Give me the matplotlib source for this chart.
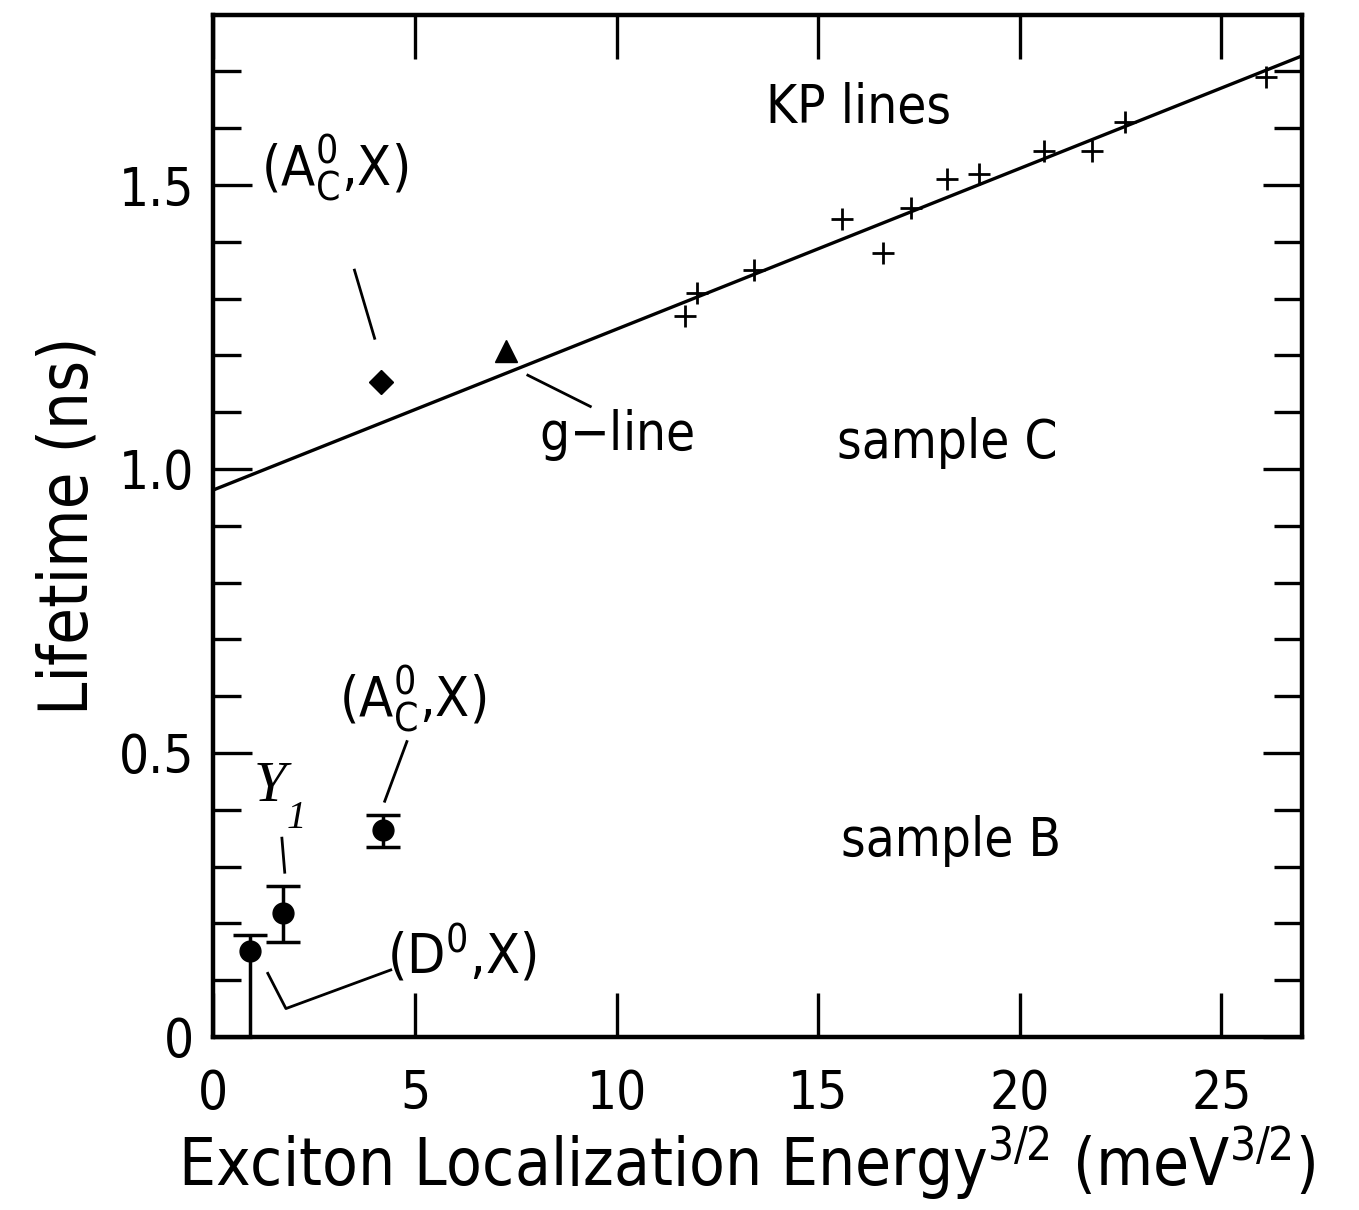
import numpy as np
import matplotlib
matplotlib.use('Agg')
import matplotlib.pyplot as plt

# KP lines, sample C
kp_x = [11.7, 12.0, 13.4, 15.6, 16.6, 17.3, 18.2, 19.0, 20.6, 21.8, 22.6, 26.1]
kp_y = [1.27, 1.31, 1.35, 1.44, 1.38, 1.46, 1.51, 1.52, 1.56, 1.56, 1.61, 1.69]

# linear fit line
fit_a = 0.963
fit_b = 0.0283

# other sample C points
acx_c = (4.15, 1.153)
gline = (7.25, 1.208)

# sample B points with error bars
b_x = [0.92, 1.72, 4.2]
b_y = [0.152, 0.218, 0.364]
b_err_lo = [0.152, 0.05, 0.03]
b_err_hi = [0.028, 0.048, 0.027]

plt.rcParams['font.family'] = ['DejaVu Sans']
plt.rcParams['font.stretch'] = 'condensed'
plt.rcParams['mathtext.fontset'] = 'custom'
plt.rcParams['mathtext.rm'] = 'DejaVu Sans:stretch=condensed'
plt.rcParams['mathtext.it'] = 'DejaVu Sans:stretch=condensed'

fig = plt.figure(figsize=(13.59, 12.10), dpi=100)
ax = fig.add_axes([0.157, 0.143, 0.801, 0.845])

xs = np.array([0, 27])
ax.plot(xs, fit_a + fit_b * xs, 'k-', lw=2.4)
ax.plot(kp_x, kp_y, 'k+', ms=16, mew=2)
ax.plot(*acx_c, 'kD', ms=12)
ax.plot(*gline, 'k^', ms=16)
ax.errorbar(b_x, b_y, yerr=[b_err_lo, b_err_hi], fmt='ko', ms=15,
            ecolor='k', elinewidth=2.5, capsize=12, capthick=2.5)

# labels
ax.text(16.0, 1.635, 'KP lines', fontsize=38, ha='center', va='center')
ax.text(18.2, 1.045, 'sample C', fontsize=38, ha='center', va='center')
ax.text(18.3, 0.345, 'sample B', fontsize=38, ha='center', va='center')
ax.text(10.0, 1.06, 'g$-$line', fontsize=38, ha='center', va='center')
ax.plot([7.8, 9.35], [1.165, 1.11], 'k-', lw=2)

ax.text(3.0, 1.53, r'(A$_\mathregular{C}^\mathregular{0}$,X)', fontsize=40,
        ha='center', va='center')
ax.plot([3.5, 4.0], [1.35, 1.23], 'k-', lw=2)

ax.text(4.95, 0.595, r'(A$_\mathregular{C}^\mathregular{0}$,X)', fontsize=40,
        ha='center', va='center')
ax.plot([4.8, 4.25], [0.52, 0.415], 'k-', lw=2)

ax.text(1.4, 0.44, 'Y', fontsize=42, family='Liberation Serif',
        style='italic', ha='center', va='center')
ax.text(2.05, 0.385, '1', fontsize=28, family='Liberation Serif',
        style='italic', ha='center', va='center')
ax.plot([1.7, 1.77], [0.35, 0.29], 'k-', lw=2)

ax.text(6.15, 0.145, r'(D$^\mathregular{0}$,X)', fontsize=40,
        ha='center', va='center')
ax.plot([1.35, 1.8, 4.4], [0.112, 0.05, 0.118], 'k-', lw=2)

ax.set_xlim(0, 27)
ax.set_ylim(0, 1.8)
ax.set_xticks([0, 5, 10, 15, 20, 25])
ax.set_xticklabels(['0', '5', '10', '15', '20', '25'])
ax.set_yticks([0, 0.5, 1.0, 1.5])
ax.set_yticklabels(['0', '0.5', '1.0', '1.5'])
ax.set_yticks(np.arange(0, 1.8, 0.1), minor=True)

ax.tick_params(axis='both', which='major', direction='in', labelsize=38,
               width=2.4, length=28, pad=14, top=True, right=True)
ax.tick_params(axis='x', which='major', length=32, pad=22)
ax.tick_params(axis='y', which='minor', direction='in', width=2.4,
               length=20, left=True, right=True)
for s in ax.spines.values():
    s.set_linewidth(3.2)

ax.set_xlabel('Exciton Localization Energy$^{3/2}$ (meV$^{3/2}$)',
              fontsize=47, labelpad=4)
ax.xaxis.set_label_coords(0.49, -0.085)
ax.set_ylabel('Lifetime (ns)', fontsize=48, labelpad=12)

fig.savefig('out.png', dpi=100)
